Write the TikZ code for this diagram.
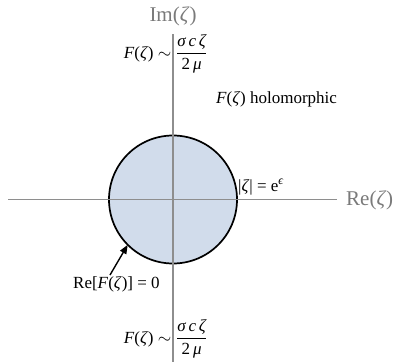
\documentclass[tikz,border=0pt]{standalone}
\usepackage{fontspec}
\setmainfont{Liberation Serif}
\usetikzlibrary{arrows.meta,calc}
\definecolor{axisgray}{HTML}{8E8E8E}
\definecolor{labelgray}{HTML}{7A7A7A}
\definecolor{diskfill}{HTML}{D1DCEB}
\newcommand{\zt}{\textit{ζ}}
\begin{document}
\begin{tikzpicture}[x=1pt,y=-1pt,
  axisline/.style={draw=axisgray,line width=1.3pt},
  disk/.style={draw=black,line width=1.7pt,fill=diskfill},
  txt/.style={font=\fontsize{17}{20}\selectfont,inner sep=0pt},
  axlbl/.style={font=\fontsize{21}{24}\selectfont,text=labelgray,inner sep=0pt},
  pointer/.style={draw=black,line width=1.4pt,-{Triangle[length=9pt,width=7pt]}}]
\useasboundingbox (0,0) rectangle (394,362);
\coordinate (O) at (173,199.5);
\coordinate (xl) at (8,199.5);
\coordinate (xr) at (337,199.5);
\coordinate (yt) at (173,34);
\coordinate (yb) at (173,362);
\draw[disk] (O) circle[radius=64];
\draw[axisline] (xl) -- (xr);
\draw[axisline] (yt) -- (yb);
\node[axlbl] (im) at (173,16.5) {Im(\zt)};
\node[axlbl,anchor=west] (re) at (346,200) {Re(\zt)};
\node[txt,anchor=base west] (hol) at (216,103) {\textit{F}(\zt) holomorphic};
\node[txt,anchor=base west] (mod) at (238,191) {|\zt| = e\textsuperscript{\itshape ϵ}};
\node[txt,anchor=base west] (bc) at (73,288) {Re[\textit{F}(\zt)] = 0};
\coordinate (tail) at (110,275);
\coordinate (tip) at ($(O)+(-45.3,45.3)$);
\draw[pointer] (tail) -- (tip);
\node[txt,anchor=base east] (ft) at (171.5,58) {\textit{F}(\zt) $\sim$};
\node[txt,anchor=base west] (fract) at (176,58) {$\displaystyle\frac{\mbox{\itshape σ\,c\,ζ}}{\mbox{2\,\itshape μ}}$};
\node[txt,anchor=base east] (fb) at (171.5,343) {\textit{F}(\zt) $\sim$};
\node[txt,anchor=base west] (fracb) at (176,343) {$\displaystyle\frac{\mbox{\itshape σ\,c\,ζ}}{\mbox{2\,\itshape μ}}$};
\end{tikzpicture}
\end{document}
